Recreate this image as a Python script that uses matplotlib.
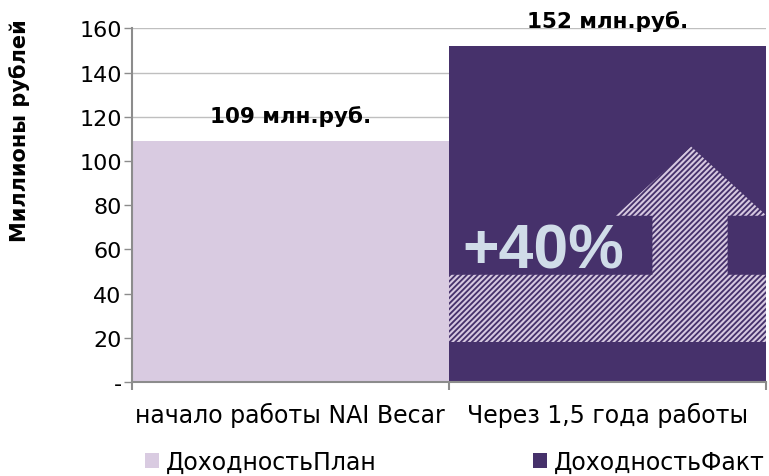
import matplotlib
matplotlib.use('Agg')
import matplotlib.pyplot as plt
from matplotlib.patches import Polygon, Patch

# ---------- Data ----------
categories = ['начало работы NAI Becar', 'Через 1,5 года работы']
series_names = ['ДоходностьПлан', 'ДоходностьФакт']
values = [109, 152]
value_labels = ['109 млн.руб.', '152 млн.руб.']
yticks = [0, 20, 40, 60, 80, 100, 120, 140, 160]
ytick_labels = ['-', '20', '40', '60', '80', '100', '120', '140', '160']
growth_label = '+40%'

plan_color = '#D9CBE1'
fact_color = '#46316B'
hatch_color = '#D6C8E0'
axis_gray = '#8C8C8C'

plt.rcParams['font.family'] = ['DejaVu Sans']
plt.rcParams['hatch.linewidth'] = 1.5

fig = plt.figure(figsize=(7.69, 4.77), dpi=100)
ax = fig.add_axes([131.5 / 769, 1 - 383 / 477, (766 - 131.5) / 769, (383 - 29.3) / 477])

x = range(len(categories))
bars = ax.bar(x, values, width=1.0, color=[plan_color, fact_color], zorder=2)

# ---------- Arrow overlay (hatched) ----------
band_lo, band_hi = 18.1, 48.5
shaft_l, shaft_r, shaft_top = 1.142, 1.379, 75.2
head_l, head_r, apex_x, apex_y = 1.026, 1.502, 1.264, 106.5
arrow = Polygon([(0.5, band_lo), (1.5, band_lo), (1.5, band_hi), (shaft_r, band_hi),
                 (shaft_r, shaft_top), (head_r, shaft_top), (apex_x, apex_y),
                 (head_l, shaft_top), (shaft_l, shaft_top), (shaft_l, band_hi),
                 (0.5, band_hi)],
                closed=True, facecolor='none', edgecolor=hatch_color,
                linewidth=0, hatch='//////', zorder=3, clip_on=False)
ax.add_patch(arrow)

ax.text(0.544, 51.6, growth_label, fontsize=45, fontweight='bold', color='#D0DCE8',
        ha='left', va='baseline', zorder=4, family='Liberation Sans')

# ---------- Value labels ----------
for i, (v, lab) in enumerate(zip(values, value_labels)):
    ax.annotate(lab, (i, v), xytext=(0, 14), textcoords='offset points',
                ha='center', va='baseline', fontsize=15.5, fontweight='bold', zorder=5)

# ---------- Axes styling ----------
ax.set_xlim(-0.5, 1.5)
ax.set_ylim(0, 160)
ax.set_yticks(yticks)
ax.set_yticklabels(ytick_labels, fontsize=16)
ax.yaxis.grid(True, color='#BFBFBF', linewidth=1.0, zorder=0)
ax.set_axisbelow(True)
ax.tick_params(axis='y', direction='out', length=6, width=1, color=axis_gray, pad=1)

ax.set_xticks([0, 1])
ax.set_xticklabels(categories, fontsize=17)
ax.tick_params(axis='x', length=0, pad=14)
ax.set_xticks([-0.5, 0.5, 1.5], minor=True)
ax.tick_params(axis='x', which='minor', direction='out', length=6, width=1.5, color=axis_gray)

for s in ['top', 'right']:
    ax.spines[s].set_visible(False)
for s in ['left', 'bottom']:
    ax.spines[s].set_color(axis_gray)
    ax.spines[s].set_linewidth(1.5)
    ax.spines[s].set_zorder(6)

fig.text(20 / 769, 1 - 131 / 477, 'Миллионы рублей', rotation=90, fontsize=15,
         fontweight='bold', ha='center', va='center')

# ---------- Legend ----------
handles = [Patch(facecolor=plan_color), Patch(facecolor=fact_color)]
fig.legend(handles, series_names, loc='center', bbox_to_anchor=(455 / 769, 1 - 463 / 477),
           ncol=2, frameon=False, fontsize=17, handlelength=0.6, handleheight=0.6,
           handletextpad=0.3, columnspacing=6.6)

fig.savefig('out.png', dpi=100)
